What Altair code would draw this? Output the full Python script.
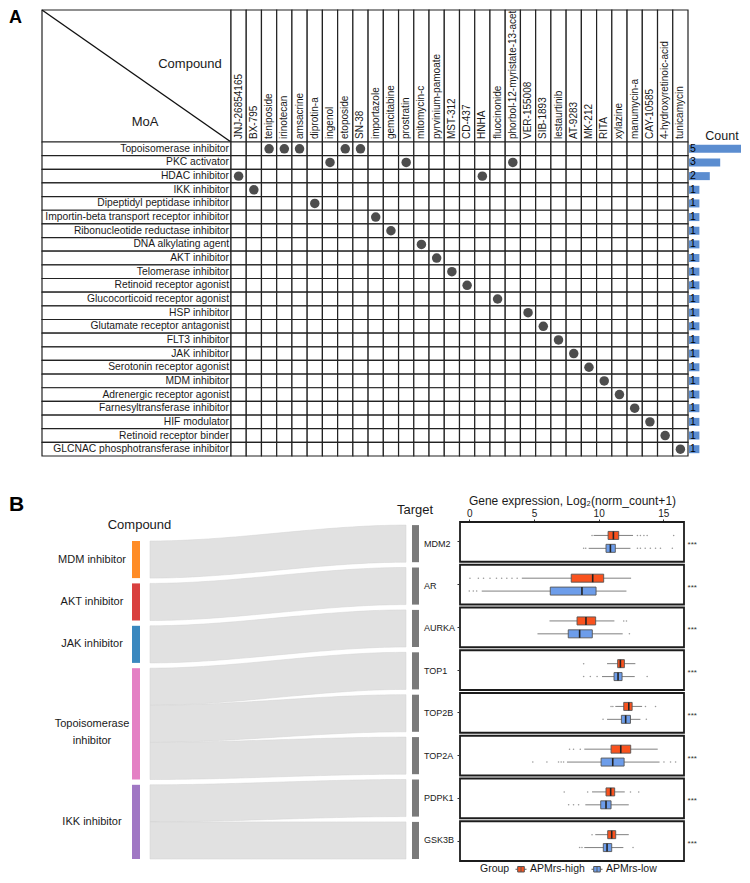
import altair as alt
import pandas as pd

FONT = "Liberation Sans"
LINE = "#222222"
TXT = "#1a1a1a"

# ---------------- Panel A data ----------------
compounds = ["JNJ-26854165", "BX-795", "teniposide", "irinotecan", "amsacrine", "diprotin-a",
             "ingenol", "etoposide", "SN-38", "importazole", "gemcitabine", "prostratin",
             "mitomycin-c", "pyrvinium-pamoate", "MST-312", "CD-437", "HNHA", "fluocinonide",
             "phorbol-12-myristate-13-acet", "VER-155008", "SIB-1893", "lestaurtinib", "AT-9283",
             "MK-212", "RITA", "xylazine", "manumycin-a", "CAY-10585", "4-hydroxyretinoic-acid",
             "tunicamycin"]
compound_moa = ["HDAC inhibitor", "IKK inhibitor", "Topoisomerase inhibitor", "Topoisomerase inhibitor",
                "Topoisomerase inhibitor", "Dipeptidyl peptidase inhibitor", "PKC activator",
                "Topoisomerase inhibitor", "Topoisomerase inhibitor",
                "Importin-beta transport receptor inhibitor", "Ribonucleotide reductase inhibitor",
                "PKC activator", "DNA alkylating agent", "AKT inhibitor", "Telomerase inhibitor",
                "Retinoid receptor agonist", "HDAC inhibitor", "Glucocorticoid receptor agonist",
                "PKC activator", "HSP inhibitor", "Glutamate receptor antagonist", "FLT3 inhibitor",
                "JAK inhibitor", "Serotonin receptor agonist", "MDM inhibitor",
                "Adrenergic receptor agonist", "Farnesyltransferase inhibitor", "HIF modulator",
                "Retinoid receptor binder", "GLCNAC phosphotransferase inhibitor"]
moas = ["Topoisomerase inhibitor", "PKC activator", "HDAC inhibitor", "IKK inhibitor",
        "Dipeptidyl peptidase inhibitor", "Importin-beta transport receptor inhibitor",
        "Ribonucleotide reductase inhibitor", "DNA alkylating agent", "AKT inhibitor",
        "Telomerase inhibitor", "Retinoid receptor agonist", "Glucocorticoid receptor agonist",
        "HSP inhibitor", "Glutamate receptor antagonist", "FLT3 inhibitor", "JAK inhibitor",
        "Serotonin receptor agonist", "MDM inhibitor", "Adrenergic receptor agonist",
        "Farnesyltransferase inhibitor", "HIF modulator", "Retinoid receptor binder",
        "GLCNAC phosphotransferase inhibitor"]
moa_counts = [compound_moa.count(m) for m in moas]

# ---------------- Panel B data ----------------
sankey_sources = ["MDM inhibitor", "AKT inhibitor", "JAK inhibitor", "Topoisomerase inhibitor", "IKK inhibitor"]
sankey_source_labels = ["MDM inhibitor", "AKT inhibitor", "JAK inhibitor", "Topoisomerase\ninhibitor", "IKK inhibitor"]
source_palette = ["#FF8C26", "#D9403F", "#3A88BF", "#E480C4", "#A077C4"]
genes = ["MDM2", "AR", "AURKA", "TOP1", "TOP2B", "TOP2A", "PDPK1", "GSK3B"]
gene_source = ["MDM inhibitor", "AKT inhibitor", "JAK inhibitor", "Topoisomerase inhibitor",
               "Topoisomerase inhibitor", "Topoisomerase inhibitor", "IKK inhibitor", "IKK inhibitor"]
link_weight = [1, 1, 1, 1, 1, 1, 1, 1]

groups = ["APMrs-high", "APMrs-low"]
group_palette = ["#F9521E", "#6D9DEA"]
hi_whislo = [9.61, 4.06, 6.20, 10.65, 11.29, 8.89, 9.49, 9.74]
hi_q1 = [10.73, 7.88, 8.33, 11.47, 11.94, 10.96, 10.57, 10.70]
hi_med = [11.14, 9.54, 9.02, 11.68, 12.33, 11.71, 10.93, 11.01]
hi_q3 = [11.55, 10.39, 9.77, 11.99, 12.59, 12.48, 11.24, 11.32]
hi_whishi = [12.66, 12.51, 11.22, 12.84, 13.36, 14.57, 12.02, 12.33]
lo_whislo = [9.23, 0.96, 5.27, 10.26, 10.65, 7.55, 8.97, 8.89]
lo_q1 = [10.57, 6.26, 7.65, 11.19, 11.76, 10.19, 10.16, 10.36]
lo_med = [10.91, 8.71, 8.53, 11.50, 12.09, 11.09, 10.57, 10.65]
lo_q3 = [11.29, 9.80, 9.51, 11.81, 12.46, 11.97, 10.96, 11.01]
lo_whishi = [12.46, 12.15, 11.86, 12.79, 13.23, 14.71, 12.33, 11.91]
hi_outliers = [
    [9.49, 13.0, 13.23, 13.5, 13.75, 15.8],
    [0.05, 0.7, 1.1, 1.6, 2.1, 2.5, 2.9, 3.3, 3.7],
    [11.94, 12.15],
    [8.84],
    [10.96, 11.1, 13.62, 14.4],
    [7.75, 8.06, 8.58],
    [7.34, 9.15, 12.46, 13.1],
    [9.49],
]
lo_outliers = [
    [8.84, 9.0, 13.0, 13.23, 13.6, 14.0, 14.4, 14.78, 15.7],
    [0.0, 0.31, 0.57],
    [12.38],
    [8.84, 9.36, 9.88, 13.75],
    [10.34, 13.69],
    [4.91, 6.0, 6.9, 7.1, 7.29, 15.05, 15.56, 15.95],
    [7.68, 8.06, 8.45],
    [8.53, 8.71, 12.66],
]

one = pd.DataFrame({"k": [0]})

# ================= PANEL A =================
HEAD_H = 134
BODY_H = 314
LAB_W = 223
GRID_W = 457
CNT_W = 54

cx = alt.X("compound:N", sort=compounds, scale=alt.Scale(paddingInner=0, paddingOuter=0), axis=None)
my = alt.Y("moa:N", sort=moas, scale=alt.Scale(paddingInner=0, paddingOuter=0), axis=None)

diag_header = alt.layer(
    alt.Chart(one).mark_rect(fill="white", stroke=LINE, strokeWidth=1.2).encode(
        x=alt.value(34), x2=alt.value(LAB_W), y=alt.value(2), y2=alt.value(HEAD_H)),
    alt.Chart(one).mark_rule(stroke="#111111", strokeWidth=1.4).encode(
        x=alt.value(34), x2=alt.value(LAB_W), y=alt.value(2), y2=alt.value(HEAD_H)),
    alt.Chart(one).mark_text(text="Compound", fontSize=13, color=TXT, align="center", baseline="middle").encode(
        x=alt.value(182), y=alt.value(56)),
    alt.Chart(one).mark_text(text="MoA", fontSize=13, color=TXT, align="center", baseline="middle").encode(
        x=alt.value(137), y=alt.value(114)),
    alt.Chart(one).mark_text(text="A", fontSize=18, fontWeight="bold", color="black", align="left", baseline="top").encode(
        x=alt.value(1), y=alt.value(1)),
).properties(width=LAB_W, height=HEAD_H)

comp_df = pd.DataFrame({"compound": compounds})
comp_header = alt.layer(
    alt.Chart(comp_df).mark_rect(fill="white", stroke=LINE, strokeWidth=1.2).encode(
        x=cx, y=alt.value(2), y2=alt.value(HEAD_H)),
    alt.Chart(comp_df).mark_text(angle=270, align="left", baseline="middle", fontSize=10, color=TXT).encode(
        x=cx, y=alt.value(HEAD_H - 3), text="compound:N"),
).properties(width=GRID_W, height=HEAD_H)

count_header = alt.Chart(one).mark_text(text="Count", fontSize=12.5, color=TXT, align="center", baseline="middle").encode(
    x=alt.value(34), y=alt.value(HEAD_H - 6)).properties(width=CNT_W, height=HEAD_H)

moa_df = pd.DataFrame({"moa": moas, "count": moa_counts})
moa_labels = alt.layer(
    alt.Chart(moa_df).mark_rect(fill="white", stroke=LINE, strokeWidth=1.2).encode(
        x=alt.value(34), x2=alt.value(LAB_W), y=my),
    alt.Chart(moa_df).mark_text(align="right", baseline="middle", fontSize=10.3, color=TXT).encode(
        x=alt.value(LAB_W - 2), y=my, text="moa:N"),
).properties(width=LAB_W, height=BODY_H)

cells = pd.DataFrame([{"compound": c, "moa": m} for m in moas for c in compounds])
members = pd.DataFrame({"compound": compounds, "moa": compound_moa})
grid = alt.layer(
    alt.Chart(cells).mark_rect(fill="white", stroke=LINE, strokeWidth=1.2).encode(x=cx, y=my),
    alt.Chart(members).mark_circle(size=90, color="#4D4D4D", opacity=1).encode(x=cx, y=my),
).properties(width=GRID_W, height=BODY_H)

cnt_x = alt.Scale(domain=[-0.096, 5.096], nice=False, zero=False)
count_bars = alt.layer(
    alt.Chart(moa_df).mark_bar(size=8, color="#5B8DD0", opacity=1).encode(
        x=alt.X("count:Q", scale=cnt_x, axis=None), x2=alt.X2Datum(0), y=my),
    alt.Chart(moa_df).mark_text(align="left", baseline="middle", fontSize=10.5, color="black", dx=1).encode(
        x=alt.XDatum(0, scale=cnt_x, axis=None), y=my, text="count:Q"),
).properties(width=CNT_W, height=BODY_H)

panel_a = alt.concat(diag_header, comp_header, count_header, moa_labels, grid, count_bars,
                     columns=3, spacing=0, bounds="flush")

# ================= PANEL B: sankey =================
SK_W = 447
SK_H = 339
UNIT = 37.1
GAP = 5.3
BOTTOM = 337.0
NODE_L = (124, 132)
NODE_R = (404, 411)
FLOW_X = (142, 398)

tot_r = sum(link_weight) * UNIT + (len(genes) - 1) * GAP
y = BOTTOM - tot_r
right_rows = []
for g, w in zip(genes, link_weight):
    right_rows.append({"gene": g, "y0": y, "y1": y + w * UNIT, "x0": NODE_R[0], "x1": NODE_R[1],
                       "ym": y + w * UNIT / 2, "lx": NODE_R[1] + 5})
    y += w * UNIT + GAP
right_df = pd.DataFrame(right_rows)

src_tot = {s: sum(w for gs, w in zip(gene_source, link_weight) if gs == s) for s in sankey_sources}
tot_l = sum(src_tot.values()) * UNIT + (len(sankey_sources) - 1) * GAP
y = BOTTOM - tot_l
left_rows = []
for s, lab, col in zip(sankey_sources, sankey_source_labels, source_palette):
    h = src_tot[s] * UNIT
    left_rows.append({"src": s, "label": lab, "color": col, "y0": y, "y1": y + h,
                      "x0": NODE_L[0], "x1": NODE_L[1], "ym": y + h / 2, "lx": 84})
    y += h + GAP
left_df = pd.DataFrame(left_rows)

cursor = {r["src"]: r["y0"] for r in left_rows}
rtop = {r["gene"]: r["y0"] for r in right_rows}
flow_rows = []
NS = 48
for i, (g, s, w) in enumerate(zip(genes, gene_source, link_weight)):
    l0 = cursor[s]
    cursor[s] += w * UNIT
    r0 = rtop[g]
    for k in range(NS + 1):
        t = k / NS
        sm = t * t * (3 - 2 * t)
        top = l0 + (r0 - l0) * sm
        flow_rows.append({"link": i, "x": FLOW_X[0] + (FLOW_X[1] - FLOW_X[0]) * t,
                          "top": top, "bot": top + w * UNIT})
flow_df = pd.DataFrame(flow_rows)

sx = alt.Scale(domain=[0, SK_W], nice=False, zero=False)
sy = alt.Scale(domain=[0, SK_H], reverse=True, nice=False, zero=False)

sankey = alt.layer(
    alt.Chart(flow_df).mark_area(orient="vertical", color="#E1E1E1", stroke="#D3D3D3", strokeWidth=0.5, opacity=1).encode(
        x=alt.X("x:Q", scale=sx, axis=None), y=alt.Y("top:Q", scale=sy, axis=None), y2="bot:Q",
        detail="link:N"),
    alt.Chart(left_df).mark_rect(opacity=1).encode(
        x=alt.X("x0:Q", scale=sx, axis=None), x2="x1:Q",
        y=alt.Y("y0:Q", scale=sy, axis=None), y2="y1:Q",
        color=alt.Color("color:N", scale=None)),
    alt.Chart(right_df).mark_rect(color="#7A7A7A", opacity=1).encode(
        x=alt.X("x0:Q", scale=sx, axis=None), x2="x1:Q",
        y=alt.Y("y0:Q", scale=sy, axis=None), y2="y1:Q"),
    alt.Chart(left_df).mark_text(align="center", baseline="middle", fontSize=11, color=TXT,
                                 lineBreak="\n", lineHeight=17).encode(
        x=alt.X("lx:Q", scale=sx, axis=None), y=alt.Y("ym:Q", scale=sy, axis=None), text="label:N"),
    alt.Chart(right_df).mark_text(align="left", baseline="middle", fontSize=9, color=TXT).encode(
        x=alt.X("lx:Q", scale=sx, axis=None), y=alt.Y("ym:Q", scale=sy, axis=None), text="gene:N"),
    alt.Chart(one).mark_text(text="Compound", fontSize=13, color=TXT, align="center", baseline="middle").encode(
        x=alt.value(131.5), y=alt.value(3)),
    alt.Chart(one).mark_text(text="Target", fontSize=13, color=TXT, align="center", baseline="middle").encode(
        x=alt.value(407), y=alt.value(-12)),
    alt.Chart(one).mark_text(text="B", fontSize=21, fontWeight="bold", color="black", align="left", baseline="top").encode(
        x=alt.value(1), y=alt.value(-28)),
).properties(width=SK_W, height=SK_H)

# ================= PANEL B: box plots =================
box_rows = []
for i, g in enumerate(genes):
    box_rows.append({"gene": g, "group": groups[0], "lo": hi_whislo[i], "q1": hi_q1[i],
                     "med": hi_med[i], "q3": hi_q3[i], "hi": hi_whishi[i]})
    box_rows.append({"gene": g, "group": groups[1], "lo": lo_whislo[i], "q1": lo_q1[i],
                     "med": lo_med[i], "q3": lo_q3[i], "hi": lo_whishi[i]})
box_df = pd.DataFrame(box_rows)
out_rows = []
for i, g in enumerate(genes):
    for v in hi_outliers[i]:
        out_rows.append({"gene": g, "group": groups[0], "value": v})
    for v in lo_outliers[i]:
        out_rows.append({"gene": g, "group": groups[1], "value": v})
out_df = pd.DataFrame(out_rows)
gene_df = pd.DataFrame({"gene": genes})

XMIN, XMAX = -0.72, 16.6
bx = alt.Scale(domain=[XMIN, XMAX], nice=False, zero=False)
x_axis = alt.Axis(orient="top", values=[0, 5, 10, 15], title="Gene expression, Log\u2082(norm_count+1)",
                  tickSize=3, labelFontSize=10, labelPadding=1, titleFontSize=12, titleFontWeight="normal",
                  titlePadding=1, domain=False, grid=False, tickColor="#333333", labelColor=TXT,
                  titleColor=TXT)
gy = alt.Y("gene:N", sort=genes, scale=alt.Scale(paddingInner=0.07, paddingOuter=0),
           axis=alt.Axis(labels=False, ticks=True, tickSize=3, domain=False, title=None, tickColor="#333333"))
go = alt.YOffset("group:N", sort=groups, scale=alt.Scale(paddingOuter=0.54, paddingInner=0))

sym_path = "M-0.6,-0.5H0.6V0.5H-0.6Z M0,-0.5V0.5 M-1,0H-0.6 M0.6,0H1"

box = alt.layer(
    alt.Chart(gene_df).mark_rect(fill="white", stroke="#1c1c1c", strokeWidth=1.8).encode(
        x=alt.XDatum(XMIN, scale=bx, axis=x_axis), x2=alt.X2Datum(XMAX), y=gy),
    alt.Chart(out_df).mark_circle(size=2.5, color="#9A9A9A", opacity=1).encode(
        x=alt.X("value:Q", scale=bx, axis=x_axis), y=gy, yOffset=go),
    alt.Chart(box_df).mark_rule(color="#808080", strokeWidth=1, opacity=1).encode(
        x=alt.X("lo:Q", scale=bx, axis=x_axis), x2="hi:Q", y=gy, yOffset=go),
    alt.Chart(box_df).mark_bar(size=8, stroke="#555555", strokeWidth=0.9, opacity=1).encode(
        x=alt.X("q1:Q", scale=bx, axis=x_axis), x2="q3:Q", y=gy, yOffset=go,
        color=alt.Color("group:N", scale=alt.Scale(domain=groups, range=group_palette),
                        legend=alt.Legend(orient="none", legendX=20, legendY=341, direction="horizontal",
                                          title="Group", titleOrient="left", titleFontSize=10.5,
                                          titleFontWeight="normal", titleColor=TXT, labelFontSize=10.5,
                                          labelColor=TXT, symbolType=sym_path, symbolSize=121,
                                          symbolStrokeColor="#555555", symbolStrokeWidth=1,
                                          columnPadding=4, labelOffset=3, padding=0, titlePadding=5))),
    alt.Chart(box_df).mark_tick(color="#222222", thickness=1.6, size=8, opacity=1).encode(
        x=alt.X("med:Q", scale=bx, axis=x_axis), y=gy, yOffset=go),
    alt.Chart(gene_df).mark_text(text="***", align="left", baseline="middle", fontSize=8, color="#333333", dy=3).encode(
        x=alt.XDatum(16.88, scale=bx, axis=x_axis), y=gy),
).properties(width=224, height=SK_H)

panel_b = alt.hconcat(sankey, box, spacing=5, bounds="flush").resolve_scale(
    color="independent").resolve_legend(color="independent")

chart = alt.vconcat(panel_a, panel_b, spacing=37).resolve_scale(
    color="independent").resolve_legend(color="independent").properties(padding=0).configure(
    font=FONT).configure_view(stroke=None)

chart.save("out.html", embed_options={"renderer": "svg", "actions": False})
